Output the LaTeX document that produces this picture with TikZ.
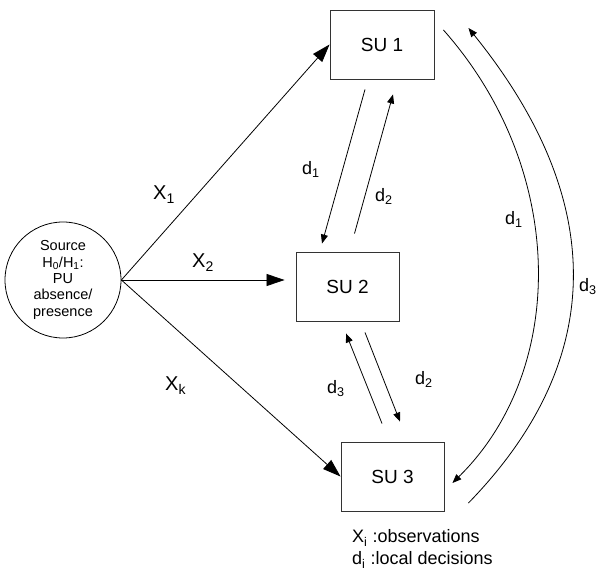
\documentclass[tikz,border=0pt]{standalone}
\usepackage{fontspec}
\setmainfont{Liberation Sans}
\usetikzlibrary{arrows.meta}
\begin{document}
\begin{tikzpicture}[x=1pt,y=-1pt,
  su/.style={draw=black!80, line width=0.9pt, minimum width=104pt, minimum height=69pt, inner sep=0pt, font=\fontsize{19}{22}\selectfont},
  src/.style={circle, draw, line width=0.8pt, minimum size=116pt, inner sep=0pt, align=center, font=\fontsize{14.5}{16.3}\selectfont},
  xarrow/.style={line width=0.8pt, -{Triangle[length=18pt,width=12pt]}},
  darrow/.style={line width=0.8pt, -{Triangle[length=9pt,width=7pt]}},
  xlab/.style={anchor=base west, inner sep=0pt, font=\fontsize{20}{24}\selectfont},
  dlab/.style={anchor=base west, inner sep=0pt, font=\fontsize{18}{22}\selectfont},
]
\useasboundingbox (0,0) rectangle (598,572);
\node[su] (su1) at (382,44.5) {SU 1};
\node[su, minimum width=103pt] (su2) at (347.5,286.5) {SU 2};
\node[su, minimum width=103pt] (su3) at (392.5,476.5) {SU 3};
\node[src] (src) at (63,280) {Source\\H\textsubscript{0}/H\textsubscript{1}:\\PU\\absence/\\presence};

\draw[xarrow] (src.east) -- (su1.west);
\draw[xarrow, shorten >=11pt] (src.east) -- (src.east -| su2.west);
\draw[xarrow] (src.east) -- (su3.west);

\draw[darrow] ([xshift=-17pt,yshift=-10pt]su1.south) -- ([xshift=-25.5pt,yshift=8pt]su2.north);
\draw[darrow] ([xshift=7pt,yshift=18pt]su2.north) -- ([xshift=11pt,yshift=-15pt]su1.south);
\draw[darrow] ([xshift=-10.5pt,yshift=18pt]su3.north) -- ([xshift=-1.5pt,yshift=-12pt]su2.south);
\draw[darrow] ([xshift=17.5pt,yshift=-11pt]su2.south) -- ([xshift=7.5pt,yshift=20pt]su3.north);

\draw[darrow] ([xshift=9pt,yshift=14.5pt]su1.east) .. controls +(124,140) and +(115,-113) .. ([xshift=8pt,yshift=-6.5pt]su3.east);
\draw[darrow] ([xshift=24pt,yshift=-26.5pt]su3.east) .. controls +(139,-143) and +(139,172) .. ([xshift=34pt,yshift=16.5pt]su1.east);

\node[xlab] (lx1) at (153,200) {X\textsubscript{1}};
\node[xlab] (lx2) at (192,268) {X\textsubscript{2}};
\node[xlab] (lxk) at (165,391) {X\textsubscript{k}};
\node[dlab] (ld1a) at (302,175) {d\textsubscript{1}};
\node[dlab] (ld2a) at (375,202) {d\textsubscript{2}};
\node[dlab] (ld3b) at (327,394) {d\textsubscript{3}};
\node[dlab] (ld2b) at (415,385) {d\textsubscript{2}};
\node[dlab] (ld1c) at (505,225) {d\textsubscript{1}};
\node[dlab] (ld3c) at (579,292) {d\textsubscript{3}};
\node[dlab] (leg1) at (352,543) {X\textsubscript{i} :observations};
\node[dlab] (leg2) at (352,565) {d\textsubscript{i} :local decisions};
\end{tikzpicture}
\end{document}
